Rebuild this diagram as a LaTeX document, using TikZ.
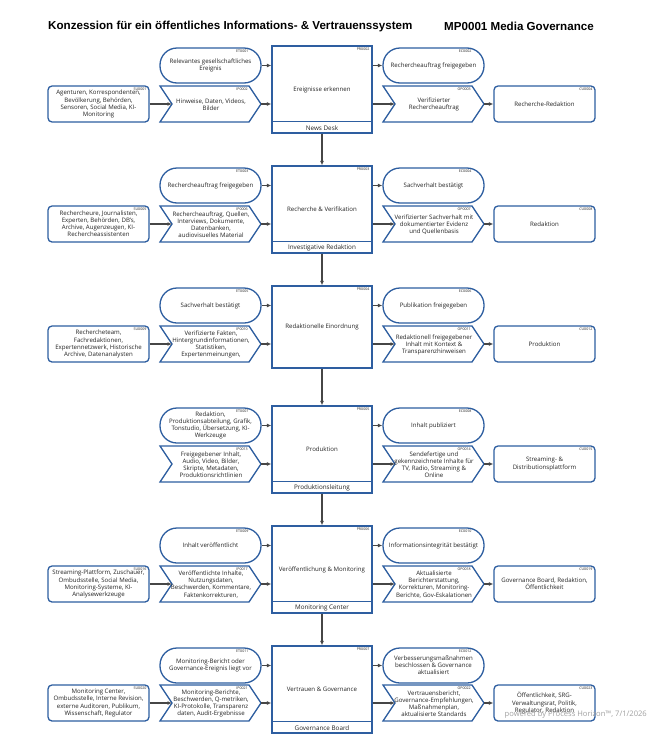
\documentclass[tikz,border=0pt]{standalone}
\usepackage{fontspec}
\setmainfont{Open Sans}
\newfontfamily\titlefont{Liberation Sans}
\usetikzlibrary{arrows.meta}
\definecolor{bordc}{RGB}{46,94,160}
\definecolor{arrc}{RGB}{70,70,70}
\definecolor{wmc}{RGB}{160,160,160}
\definecolor{txtc}{RGB}{35,35,35}
\tikzset{
  box/.style={draw=bordc, line width=1.3pt, fill=white, align=center, inner sep=1pt, text=txtc, font=\fontsize{6.1}{7.1}\selectfont},
  stad/.style={box, rounded corners=17pt, minimum width=101pt, minimum height=35pt},
  rbox/.style={box, rounded corners=4pt, minimum width=101pt, minimum height=36pt},
  prbox/.style={box, minimum width=100pt},
  chevline/.style={draw=bordc, line width=1.3pt, fill=white, line join=miter},
  chevtext/.style={align=center, inner sep=0pt, text=txtc, font=\fontsize{6.1}{7.1}\selectfont},
  idtag/.style={font=\fontsize{3.6}{4}\selectfont, inner sep=0pt, anchor=north east, text=txtc},
  lbl/.style={font=\fontsize{6.3}{7}\selectfont, inner sep=0pt, text=txtc},
  arr/.style={draw=arrc, line width=1.1pt, -{Latex[length=4.5pt,width=4pt]}},
  titlestyle/.style={anchor=west, inner sep=0pt, font=\titlefont\bfseries\fontsize{11.6}{13}\selectfont},
}
% name, x0, top, text, id
\newcommand\stadnode[5]{%
  \node[stad] (#1) at (#2+50.5,#3+17.5) {#4};
  \node[idtag] at ([xshift=-13pt,yshift=-2pt]#1.north east) {#5};
}
\newcommand\rnode[5]{%
  \node[rbox] (#1) at (#2+50.5,#3+18) {#4};
  \node[idtag] at ([xshift=-3pt,yshift=-2pt]#1.north east) {#5};
}
\newcommand\chevshape[5]{%
  \draw[chevline] (#2,#3) -- (#2+89,#3) -- (#2+101,#3+18) -- (#2+89,#3+36) -- (#2,#3+36) -- (#2+12,#3+18) -- cycle;
  \node[chevtext] (#1) at (#2+51,#3+18.5) {#4};
  \coordinate (#1-in) at (#2+12,#3+18);
  \coordinate (#1-out) at (#2+101,#3+18);
  \node[idtag] at (#2+88,#3+2) {#5};
}
% name, top, height, text, id
\newcommand\prnode[5]{%
  \node[prbox, minimum height=#3pt] (#1) at (322,#2+#3/2) {#4};
  \node[idtag] at ([xshift=-3pt,yshift=-2pt]#1.north east) {#5};
}
\newcommand\prlabel[2]{%
  \draw[draw=bordc, line width=1.3pt] ([yshift=12pt]#1.south west) -- ([yshift=12pt]#1.south east);
  \node[lbl] (#1-lbl) at ([yshift=6pt]#1.south) {#2};
}
\newcommand\rowarrows[1]{%
  \draw[arr] (et#1.east) -- (et#1.east -| pr#1.west);
  \draw[arr] (ip#1-out) -- (ip#1-out -| pr#1.west);
  \draw[arr] (ec#1.west -| pr#1.east) -- (ec#1.west);
  \draw[arr] (op#1-in -| pr#1.east) -- (op#1-in);
  \draw[arr] (op#1-out) -- (cu#1.west);
}
\begin{document}
\begin{tikzpicture}[x=1pt, y=-1pt]
\fill[white] (0,0) rectangle (651,750);
\useasboundingbox (0,0) rectangle (651,750);

\node[titlestyle] (title) at (48,26) {Konzession für ein öffentliches Informations- \& Vertrauenssystem};
\node[titlestyle] (mp) at (444,26) {MP0001 Media Governance};

% ---------- Row 1 ----------
\stadnode{et1}{160}{48}{Relevantes gesellschaftliches\\Ereignis}{ET0001}
\prnode{pr1}{46}{87}{Ereignisse erkennen}{PR0002}
\prlabel{pr1}{News Desk}
\stadnode{ec1}{383}{48}{Rechercheauftrag freigegeben}{EC0002}
\rnode{su1}{48}{86}{Agenturen, Korrespondenten,\\Bevölkerung, Behörden,\\Sensoren, Social Media, KI-\\Monitoring}{SU0001}
\chevshape{ip1}{160}{86}{Hinweise, Daten, Videos,\\Bilder}{IP0002}
\chevshape{op1}{383}{86}{Verifizierter\\Rechercheauftrag}{OP0003}
\rnode{cu1}{494}{86}{Recherche-Redaktion}{CU0004}
\rowarrows{1}
\draw[arr] (su1.east) -- (ip1-in);

% ---------- Row 2 ----------
\stadnode{et2}{160}{168}{Rechercheauftrag freigegeben}{ET0003}
\prnode{pr2}{166}{87}{Recherche \& Verifikation}{PR0003}
\prlabel{pr2}{Investigative Redaktion}
\stadnode{ec2}{383}{168}{Sachverhalt bestätigt}{EC0004}
\rnode{su2}{48}{206}{Rechercheure, Journalisten,\\Experten, Behörden, DB's,\\Archive, Augenzeugen, KI-\\Rechercheassistenten}{SU0005}
\chevshape{ip2}{160}{206}{Rechercheauftrag, Quellen,\\Interviews, Dokumente,\\Datenbanken,\\audiovisuelles Material}{IP0006}
\chevshape{op2}{383}{206}{Verifizierter Sachverhalt mit\\dokumentierter Evidenz\\und Quellenbasis}{OP0007}
\rnode{cu2}{494}{206}{Redaktion}{CU0008}
\rowarrows{2}
\draw[arr] (su2.east) -- (ip2-in);

% ---------- Row 3 ----------
\stadnode{et3}{160}{288}{Sachverhalt bestätigt}{ET0005}
\prnode{pr3}{286}{82}{Redaktionelle Einordnung}{PR0004}
\stadnode{ec3}{383}{288}{Publikation freigegeben}{EC0006}
\rnode{su3}{48}{326}{Rechercheteam,\\Fachredaktionen,\\Expertennetzwerk, Historische\\Archive, Datenanalysten}{SU0009}
\chevshape{ip3}{160}{326}{Verifizierte Fakten,\\Hintergrundinformationen,\\Statistiken,\\Expertenmeinungen,}{IP0010}
\chevshape{op3}{383}{326}{Redaktionell freigegebener\\Inhalt mit Kontext \&\\Transparenzhinweisen}{OP0011}
\rnode{cu3}{494}{326}{Produktion}{CU0012}
\rowarrows{3}
\draw[arr] (su3.east) -- (ip3-in);

% ---------- Row 4 ----------
\stadnode{et4}{160}{408}{Redaktion,\\Produktionsabteilung, Grafik,\\Tonstudio, Übersetzung, KI-\\Werkzeuge}{ET0007}
\prnode{pr4}{406}{87}{Produktion}{PR0005}
\prlabel{pr4}{Produktionsleitung}
\stadnode{ec4}{383}{408}{Inhalt publiziert}{EC0008}
\chevshape{ip4}{160}{446}{Freigegebener Inhalt,\\Audio, Video, Bilder,\\Skripte, Metadaten,\\Produktionsrichtlinien}{IP0013}
\chevshape{op4}{383}{446}{Sendefertige und\\gekennzeichnete Inhalte für\\TV, Radio, Streaming \&\\Online}{OP0014}
\rnode{cu4}{494}{446}{Streaming- \&\\Distributionsplattform}{CU0015}
\rowarrows{4}

% ---------- Row 5 ----------
\stadnode{et5}{160}{528}{Inhalt veröffentlicht}{ET0009}
\prnode{pr5}{526}{87}{Veröffentlichung \& Monitoring}{PR0006}
\prlabel{pr5}{Monitoring Center}
\stadnode{ec5}{383}{528}{Informationsintegrität bestätigt}{EC0010}
\rnode{su5}{48}{566}{Streaming-Plattform, Zuschauer,\\Ombudsstelle, Social Media,\\Monitoring-Systeme, KI-\\Analysewerkzeuge}{SU0016}
\chevshape{ip5}{160}{566}{Veröffentlichte Inhalte,\\Nutzungsdaten,\\Beschwerden, Kommentare,\\Faktenkorrekturen,}{IP0017}
\chevshape{op5}{383}{566}{Aktualisierte\\Berichterstattung,\\Korrekturen, Monitoring-\\Berichte, Gov-Eskalationen}{OP0018}
\rnode{cu5}{494}{566}{Governance Board, Redaktion,\\Öffentlichkeit}{CU0019}
\rowarrows{5}
\draw[arr] (su5.east) -- (ip5-in);

% ---------- Row 6 ----------
\stadnode{et6}{160}{648}{Monitoring-Bericht oder\\Governance-Ereignis liegt vor}{ET0011}
\prnode{pr6}{646}{87}{Vertrauen \& Governance}{PR0007}
\prlabel{pr6}{Governance Board}
\stadnode{ec6}{383}{648}{Verbesserungsmaßnahmen\\beschlossen \& Governance\\aktualisiert}{EC0012}
\rnode{su6}{48}{685}{Monitoring Center,\\Ombudsstelle, Interne Revision,\\externe Auditoren, Publikum,\\Wissenschaft, Regulator}{SU0020}
\chevshape{ip6}{160}{685}{Monitoring-Berichte,\\Beschwerden, Q-metriken,\\KI-Protokolle, Transparenz\\daten, Audit-Ergebnisse}{IP0021}
\chevshape{op6}{383}{685}{Vertrauensbericht,\\Governance-Empfehlungen,\\Maßnahmenplan,\\aktualisierte Standards}{OP0022}
\rnode{cu6}{494}{685}{Öffentlichkeit, SRG-\\Verwaltungsrat, Politik,\\Regulator, Redaktion}{CU0023}
\rowarrows{6}
\draw[arr] (su6.east) -- (ip6-in);

% ---------- vertical flow ----------
\draw[arr] (pr1.south) -- (pr2.north);
\draw[arr] (pr2.south) -- (pr3.north);
\draw[arr] (pr3.south) -- (pr4.north);
\draw[arr] (pr4.south) -- (pr5.north);
\draw[arr] (pr5.south) -- (pr6.north);

\node[anchor=east, inner sep=0pt, text=wmc, font=\fontsize{7.6}{8}\selectfont] (wm) at (647,715) {powered by Process Horizon™, 7/1/2026};
\end{tikzpicture}
\end{document}
